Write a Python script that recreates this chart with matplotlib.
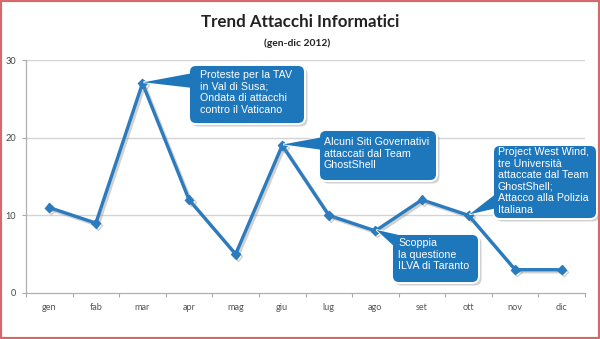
import matplotlib
matplotlib.use("Agg")
import matplotlib.pyplot as plt
import matplotlib.patheffects as pe
from matplotlib.patches import FancyBboxPatch, Polygon, Rectangle
from matplotlib.transforms import Affine2D

# Monthly counts of cyber attacks, 2012
months = ["gen", "fab", "mar", "apr", "mag", "giu", "lug", "ago", "set", "ott", "nov", "dic"]
attacks = [11, 9, 27, 12, 5, 19, 10, 8, 12, 10, 3, 3]
y_ticks = [0, 10, 20, 30]

title = "Trend Attacchi Informatici"
subtitle = "(gen-dic 2012)"

# Event notes: (month index they refer to, text)
events = [
    (2, "Proteste per la TAV\nin Val di Susa;\nOndata di attacchi\ncontro il Vaticano"),
    (5, "Alcuni Siti Governativi\nattaccati dal Team\nGhostShell"),
    (7, "Scoppia\nla questione\nILVA di Taranto"),
    (9, "Project West Wind,\ntre Università\nattaccate dal Team\nGhostShell;\nAttacco alla Polizia\nItaliana"),
]

# Callout layout in pixels (left, top, right, bottom), text origin, tail base points
callout_boxes = [
    (189, 65, 305, 124),
    (319, 130, 437, 181),
    (392, 234, 479, 283),
    (493, 145, 597, 219),
]
callout_text_pos = [(200, 70), (324, 137), (398, 238), (498, 147)]
callout_tail_base = [
    [(193, 73), (193, 88)],
    [(323, 137), (323, 150)],
    [(396, 248), (412, 238)],
    [(497, 193), (497, 208)],
]

W, H, DPI = 600, 339, 100
LINE_BLUE = "#2b7bbf"
BOX_BLUE = "#1f77bb"

fig = plt.figure(figsize=(W / DPI, H / DPI), dpi=DPI)
fig.patch.set_facecolor("white")

# pixel coordinates with origin at top-left
pix = Affine2D().scale(1 / DPI, -1 / DPI).translate(0, H / DPI) + fig.dpi_scale_trans

ax = fig.add_axes([26 / W, 1 - 293 / H, (585 - 26) / W, (293 - 60) / H])
ax.set_facecolor("none")
x = list(range(len(months)))
ax.plot(x, attacks, color=LINE_BLUE, lw=2.4, marker="D", ms=4.5,
        solid_joinstyle="miter", zorder=3,
        path_effects=[pe.SimpleLineShadow(offset=(1.5, -1.5), shadow_color="#8a8a8a", alpha=0.4),
                      pe.Normal()])
ax.set_xlim(-0.5, len(months) - 0.5)
ax.set_ylim(0, 30)
ax.set_yticks(y_ticks)
ax.set_yticklabels([str(v) for v in y_ticks])
ax.set_xticks(x)
ax.set_xticklabels(months)
ax.set_xticks([i - 0.5 for i in range(len(months) + 1)], minor=True)
ax.tick_params(axis="x", which="major", length=0, pad=7, labelsize=6.6, labelcolor="#555555")
ax.tick_params(axis="x", which="minor", length=3, width=0.8, color="#aaaaaa", direction="out")
ax.tick_params(axis="y", length=3, width=0.8, color="#aaaaaa", pad=4, labelsize=6.6,
               labelcolor="#444444")
for lab in ax.get_xticklabels() + ax.get_yticklabels():
    lab.set_fontfamily("Lato")
for v in y_ticks[1:]:
    ax.axhline(v, color="#d4d4d4", lw=1.0, zorder=1)
for s in ["top", "right"]:
    ax.spines[s].set_visible(False)
for s in ["left", "bottom"]:
    ax.spines[s].set_color("#b0b0b0")
    ax.spines[s].set_linewidth(0.9)

fig.text(300 / W, 1 - 22 / H, title, ha="center", va="center", fontsize=12.2,
         fontweight="bold", family="Lato", color="#222222")
fig.text(297 / W, 1 - 43 / H, subtitle, ha="center", va="center", fontsize=7.4,
         fontweight="bold", family="Lato", color="#222222")

# Callouts pointing at the referenced data points
inv = pix.inverted()
for (idx, txt), box, tpos, base in zip(events, callout_boxes, callout_text_pos, callout_tail_base):
    tip = inv.transform(ax.transData.transform((idx, attacks[idx])))
    tip = (tip[0] + 1, tip[1] - 1)
    x0, y0, x1, y1 = box
    tail = [tip, base[0], base[1]]
    fig.patches.append(FancyBboxPatch((x0 + 2.5, y0 + 2.5), x1 - x0, y1 - y0,
                                      boxstyle="round,pad=0,rounding_size=7",
                                      transform=pix, fc="#9a9a9a", ec="none",
                                      alpha=0.45, zorder=5))
    fig.patches.append(Polygon(tail, closed=True, transform=pix, fc=BOX_BLUE,
                               ec="white", lw=1.2, zorder=6))
    fig.patches.append(FancyBboxPatch((x0, y0), x1 - x0, y1 - y0,
                                      boxstyle="round,pad=0,rounding_size=7",
                                      transform=pix, fc=BOX_BLUE, ec="white", lw=1.4,
                                      zorder=7))
    fig.patches.append(Polygon(tail, closed=True, transform=pix, fc=BOX_BLUE,
                               ec="none", zorder=8))
    fig.text(tpos[0] / W, 1 - tpos[1] / H, txt, ha="left", va="top", fontsize=7.7,
             family="Liberation Sans", color="white", linespacing=1.2, zorder=9)

# Outer frame
fig.patches.append(Rectangle((0, 0), 1, 1, transform=fig.transFigure, fill=False,
                             ec="#d6676a", lw=3, zorder=20))

fig.savefig("out.png", dpi=DPI)
